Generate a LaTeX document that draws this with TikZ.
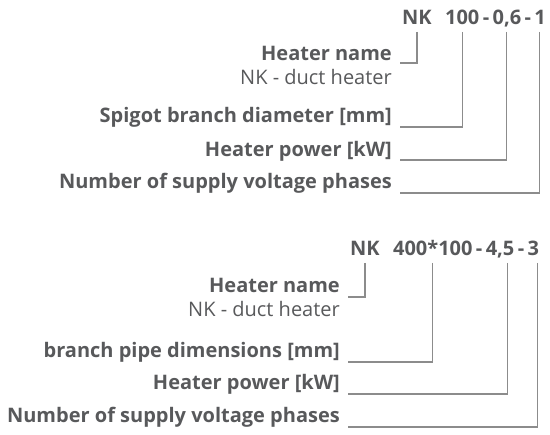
\documentclass[tikz,border=0pt]{standalone}
\usepackage{fontspec}
\setmainfont{Open Sans}
\usetikzlibrary{positioning}
\definecolor{txtgray}{RGB}{88,89,91}
\definecolor{linegray}{RGB}{140,140,140}

\begin{document}
\begin{tikzpicture}[x=1pt, y=1pt,
    code/.style={font=\fontsize{20}{24}\selectfont\bfseries, text=txtgray, inner sep=0pt},
    lbl/.style={font=\fontsize{20}{24}\selectfont\bfseries, text=txtgray, inner sep=0pt, anchor=base east},
    sub/.style={font=\fontsize{20}{24}\selectfont, text=txtgray, inner sep=0pt, anchor=base east},
    lead/.style={draw=linegray, line width=1.1pt}]
    \useasboundingbox (0,0) rectangle (550,435);

    % ===== NK 100-0,6-1 =====
    \def\xA{392}
    \node[code, anchor=base west] (nkA) at (402, 410) {NK};
    \node[code, base right=13pt of nkA] (diaA) {100};
    \node[code, base right=3pt of diaA] (hyA) {-};
    \node[code, base right=3pt of hyA] (powA) {0,6};
    \node[code, base right=3pt of powA] (hyB) {-};
    \node[code, base right=3pt of hyB] (phA) {1};

    \node[lbl] (nameA) at (\xA, 374) {Heater name};
    \node[sub] (typeA) at (\xA, 350) {NK - duct heater};
    \node[lbl] (sizeA) at (\xA, 312) {Spigot branch diameter [mm]};
    \node[lbl] (kwA) at (\xA, 278) {Heater power [kW]};
    \node[lbl] (phsA) at (\xA, 246) {Number of supply voltage phases};

    \draw[lead] ([yshift=-7pt]nkA.base) |- ([shift={(8pt,-2pt)}]nameA.base east);
    \draw[lead] ([yshift=-7pt]diaA.base) |- ([shift={(8pt,-4pt)}]sizeA.base east);
    \draw[lead] ([yshift=-7pt]powA.base) |- ([shift={(8pt,-3pt)}]kwA.base east);
    \draw[lead] ([shift={(-1pt,-7pt)}]phA.base) |- ([shift={(8pt,-4pt)}]phsA.base east);

    % ===== NK 400*100-4,5-3 =====
    \def\xB{340}
    \node[code, anchor=base west] (nkB) at (350, 179) {NK};
    \node[code, base right=13pt of nkB] (dimB) {400*100};
    \node[code, base right=3pt of dimB] (hyC) {-};
    \node[code, base right=3pt of hyC] (powB) {4,5};
    \node[code, base right=3pt of powB] (hyD) {-};
    \node[code, base right=3pt of hyD] (phB) {3};

    \node[lbl] (nameB) at (\xB, 142) {Heater name};
    \node[sub] (typeB) at (\xB, 118) {NK - duct heater};
    \node[lbl] (sizeB) at (\xB, 77) {branch pipe dimensions [mm]};
    \node[lbl] (kwB) at (\xB, 45) {Heater power [kW]};
    \node[lbl] (phsB) at (\xB, 12) {Number of supply voltage phases};

    \draw[lead] ([yshift=-7pt]nkB.base) |- ([shift={(8pt,-4pt)}]nameB.base east);
    \draw[lead] ([yshift=-7pt]dimB.base) |- ([shift={(8pt,-4pt)}]sizeB.base east);
    \draw[lead] ([shift={(7pt,-7pt)}]powB.base) |- ([shift={(8pt,-4pt)}]kwB.base east);
    \draw[lead] ([shift={(4pt,-7pt)}]phB.base) |- ([shift={(8pt,-4pt)}]phsB.base east);
\end{tikzpicture}
\end{document}
